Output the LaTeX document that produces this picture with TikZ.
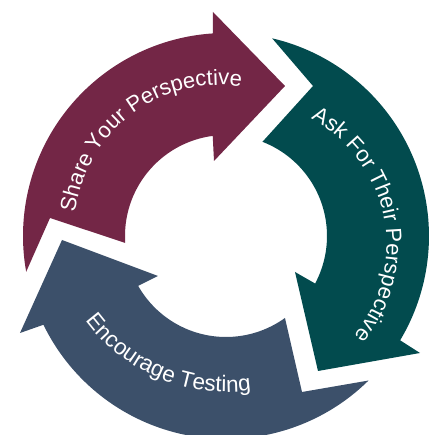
\documentclass[tikz,border=0pt]{standalone}
\usepackage{fontspec}
\setmainfont{Liberation Sans}
\usetikzlibrary{decorations.text}
\definecolor{wine}{HTML}{732646}
\definecolor{deepteal}{HTML}{024B4E}
\definecolor{slate}{HTML}{3C506A}
\tikzset{
  cyclelabel/.style={decorate, decoration={text along path, text align=center, text color=white}},
}
\newcommand{\lblsize}{\fontsize{22}{26}\selectfont}
\newcommand{\lblsizeb}{\fontsize{22.5}{26}\selectfont}
\begin{document}
\begin{tikzpicture}[x=1pt,y=1pt]
\useasboundingbox (-226,-199) rectangle (211,236);
% top arrow
\fill[wine] (190.15:203) arc[start angle=190.15, end angle=93.7, radius=203]
  -- (-13,224) -- (59,150) -- (-12,75) -- (97.56:101)
  arc[start angle=97.56, end angle=183.93, radius=101] -- (-176,18) -- cycle;
% right arrow
\fill[deepteal] (76.86:203) arc[start angle=76.86, end angle=-30.92, radius=203]
  -- (194,-117) -- (92,-135) -- (69,-36) -- (-28.07:101)
  arc[start angle=-28.07, end angle=68.84, radius=101] -- (87,150) -- cycle;
% bottom arrow
\fill[slate] (314.6:203) arc[start angle=314.6, end angle=205.93, radius=203]
  -- (-206,-97) -- (-164,-4) -- (-68,-40) -- (209.6:101)
  arc[start angle=209.6, end angle=305.73, radius=101] -- (76,-156) -- cycle;
% labels along the arrows
\path[cyclelabel, decoration={text={|\lblsize|Share Your Perspective}}]
  (-6,5) ++(177.2:146) arc[start angle=177.2, end angle=77.2, radius=146];
\path[cyclelabel, decoration={text={|\lblsize|Ask For Their Perspective}}]
  (17.5,-9) ++(71.2:143) arc[start angle=71.2, end angle=-48.8, radius=143];
\path[cyclelabel, decoration={text={|\lblsizeb|Encourage Testing}}]
  (1,20) ++(197.2:176) arc[start angle=197.2, end angle=297.2, radius=176];
\end{tikzpicture}
\end{document}
